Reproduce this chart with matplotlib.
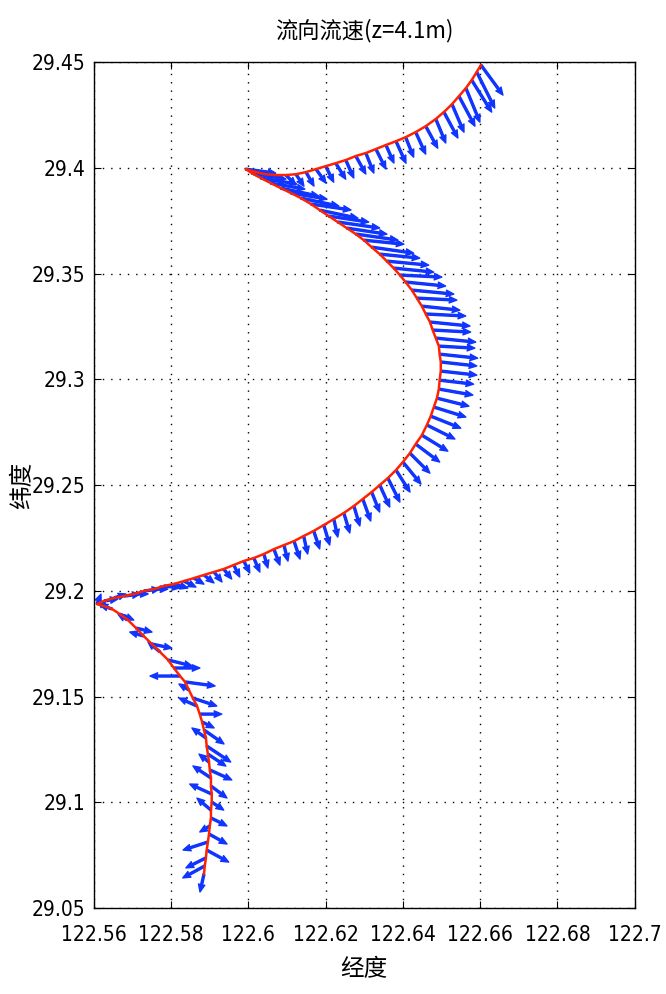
import matplotlib
matplotlib.use('Agg')
import matplotlib.pyplot as plt
import matplotlib.patheffects as pe
from matplotlib import font_manager

# ship track (lon, lat) and surface current at each fix (east, north, m/s)
track_lon = [
    122.5885, 122.5887, 122.5890, 122.5892, 122.5895, 122.5898, 122.5900, 122.5903,
    122.5903, 122.5905, 122.5905, 122.5903, 122.5903, 122.5900, 122.5898, 122.5895,
    122.5892, 122.5890, 122.5885, 122.5880, 122.5874, 122.5867, 122.5856, 122.5846,
    122.5836, 122.5823, 122.5807, 122.5792, 122.5771, 122.5750, 122.5729, 122.5709,
    122.5688, 122.5667, 122.5647, 122.5626, 122.5608,
    122.5626, 122.5652, 122.5678, 122.5704, 122.5729, 122.5755, 122.5781, 122.5807,
    122.5833, 122.5859, 122.5885, 122.5911, 122.5936, 122.5962, 122.5988, 122.6014,
    122.6040, 122.6066, 122.6092, 122.6118, 122.6143, 122.6169, 122.6195, 122.6221,
    122.6247, 122.6273, 122.6296, 122.6319, 122.6340, 122.6361, 122.6382, 122.6400,
    122.6418, 122.6433, 122.6449, 122.6462, 122.6472, 122.6480, 122.6488, 122.6493,
    122.6495, 122.6498,
    122.6498, 122.6495, 122.6493, 122.6485, 122.6477, 122.6470, 122.6459, 122.6449,
    122.6436, 122.6423, 122.6407, 122.6392, 122.6376, 122.6358, 122.6340, 122.6319,
    122.6299, 122.6278, 122.6255, 122.6231, 122.6208, 122.6185, 122.6162, 122.6136,
    122.6110, 122.6084, 122.6058, 122.6032, 122.6009, 122.5993,
    122.6019, 122.6045, 122.6071, 122.6097, 122.6123, 122.6149, 122.6175, 122.6200,
    122.6226, 122.6252, 122.6278, 122.6304, 122.6330, 122.6356, 122.6382, 122.6407,
    122.6433, 122.6459, 122.6485, 122.6506, 122.6527, 122.6545, 122.6563, 122.6578,
    122.6591, 122.6602,
]
track_lat = [
    29.0661, 29.0699, 29.0737, 29.0774, 29.0812, 29.0850, 29.0888, 29.0926,
    29.0963, 29.1001, 29.1039, 29.1077, 29.1115, 29.1153, 29.1190, 29.1228,
    29.1266, 29.1304, 29.1342, 29.1380, 29.1417, 29.1455, 29.1493, 29.1531,
    29.1569, 29.1597, 29.1635, 29.1673, 29.1711, 29.1748, 29.1786, 29.1824,
    29.1862, 29.1890, 29.1914, 29.1928, 29.1937,
    29.1952, 29.1966, 29.1975, 29.1985, 29.1999, 29.2008, 29.2023, 29.2032,
    29.2046, 29.2060, 29.2075, 29.2089, 29.2103, 29.2122, 29.2141, 29.2155,
    29.2174, 29.2197, 29.2216, 29.2235, 29.2259, 29.2283, 29.2311, 29.2339,
    29.2368, 29.2401, 29.2434, 29.2467, 29.2500, 29.2533, 29.2571, 29.2609,
    29.2651, 29.2694, 29.2736, 29.2784, 29.2826, 29.2869, 29.2911, 29.2954,
    29.2996, 29.3039,
    29.3082, 29.3119, 29.3157, 29.3195, 29.3233, 29.3271, 29.3309, 29.3346,
    29.3384, 29.3422, 29.3460, 29.3493, 29.3526, 29.3559, 29.3592, 29.3625,
    29.3658, 29.3687, 29.3715, 29.3744, 29.3772, 29.3800, 29.3829, 29.3857,
    29.3881, 29.3904, 29.3928, 29.3952, 29.3975, 29.3994,
    29.3980, 29.3970, 29.3966, 29.3966, 29.3970, 29.3980, 29.3994, 29.4008,
    29.4022, 29.4037, 29.4056, 29.4070, 29.4089, 29.4108, 29.4126, 29.4145,
    29.4169, 29.4197, 29.4231, 29.4264, 29.4301, 29.4339, 29.4377, 29.4415,
    29.4453, 29.4486,
]
cur_u = [
    -0.10, -0.55, -0.50, 0.55, -0.62, 0.45, -0.25, 0.40,
    -0.35, 0.30, -0.55, 0.40, -0.45, 0.55, -0.25, 0.45,
    0.60, -0.35, 0.50, 0.30, 0.55, -0.45, 0.60, -0.25,
    0.75, -0.75, 0.65, 0.60, -0.30, 0.50, -0.35, 0.40,
    -0.25, 0.35, -0.30, -0.15, 0.10,
    0.35, 0.30, 0.40, 0.35, 0.40, 0.35, 0.40, 0.35,
    0.30, 0.25, 0.25, 0.20, 0.20, 0.15, 0.15, 0.15,
    0.10, 0.15, 0.10, 0.15, 0.10, 0.15, 0.15, 0.10,
    0.15, 0.15, 0.20, 0.20, 0.25, 0.30, 0.35, 0.45,
    0.50, 0.60, 0.65, 0.70, 0.75, 0.80, 0.80, 0.85,
    0.85, 0.90,
    0.90, 0.95, 0.90, 1.00, 0.95, 1.00, 1.00, 0.95,
    1.00, 1.05, 1.00, 1.05, 1.00, 1.05, 1.00, 1.05,
    1.00, 1.05, 1.00, 1.05, 1.00, 0.95, 1.00, 0.95,
    0.90, 0.95, 0.85, 0.90, 0.85, 0.75,
    0.15, 0.20, 0.20, 0.25, 0.20, 0.20, 0.25, 0.20,
    0.25, 0.20, 0.25, 0.20, 0.25, 0.20, 0.25, 0.20,
    0.25, 0.30, 0.25, 0.35, 0.30, 0.40, 0.35, 0.50,
    0.45, 0.55,
]
cur_v = [
    -0.45, -0.30, -0.25, -0.30, -0.20, -0.25, -0.15, -0.20,
    0.30, -0.20, 0.25, -0.30, 0.30, -0.25, 0.20, -0.30,
    -0.40, 0.25, -0.35, -0.15, 0.00, 0.20, -0.20, 0.15,
    -0.10, 0.00, 0.00, -0.15, 0.25, -0.10, 0.10, -0.10,
    0.15, -0.15, 0.10, 0.15, 0.25,
    0.05, 0.10, 0.05, 0.00, 0.05, 0.00, -0.05, -0.10,
    -0.15, -0.15, -0.20, -0.25, -0.25, -0.30, -0.30, -0.35,
    -0.35, -0.40, -0.40, -0.45, -0.45, -0.45, -0.50, -0.45,
    -0.50, -0.50, -0.55, -0.50, -0.55, -0.60, -0.55, -0.55,
    -0.50, -0.45, -0.40, -0.35, -0.30, -0.25, -0.20, -0.15,
    -0.10, -0.10,
    -0.10, -0.10, -0.05, -0.10, -0.05, -0.10, -0.05, -0.10,
    -0.05, -0.10, -0.10, -0.05, -0.10, -0.10, -0.10, -0.15,
    -0.10, -0.15, -0.15, -0.15, -0.15, -0.20, -0.15, -0.20,
    -0.15, -0.20, -0.15, -0.15, -0.15, -0.10,
    -0.15, -0.20, -0.25, -0.25, -0.30, -0.35, -0.35, -0.40,
    -0.40, -0.45, -0.45, -0.50, -0.50, -0.45, -0.55, -0.50,
    -0.55, -0.55, -0.60, -0.65, -0.70, -0.75, -0.85, -0.80,
    -0.90, -0.75,
]

xticks = [122.56, 122.58, 122.6, 122.62, 122.64, 122.66, 122.68, 122.7]
xtick_labels = ['122.56', '122.58', '122.6', '122.62', '122.64', '122.66', '122.68', '122.7']
yticks = [29.05, 29.1, 29.15, 29.2, 29.25, 29.3, 29.35, 29.4, 29.45]
ytick_labels = ['29.05', '29.1', '29.15', '29.2', '29.25', '29.3', '29.35', '29.4', '29.45']

# narrow sans for the tick labels, like the squeezed matlab export
fonts = font_manager.fontManager.ttflist
tick_family = 'Liberation Sans'
tick_stretch = 'normal'
if any(f.name == 'Liberation Sans Narrow' for f in fonts):
    tick_family = 'Liberation Sans Narrow'
elif any(f.name == 'DejaVu Sans' and f.stretch == 'condensed' for f in fonts):
    tick_family = 'DejaVu Sans'
    tick_stretch = 'condensed'

plt.rcParams['font.family'] = [tick_family, 'Noto Sans CJK SC', 'DejaVu Sans']
plt.rcParams['font.stretch'] = tick_stretch
cjk = ['Noto Sans CJK SC', tick_family, 'DejaVu Sans']

fig = plt.figure(figsize=(6.66, 9.94), dpi=100)
ax = fig.add_axes([0.141, 0.0865, 0.812, 0.851])

blue = '#1035ff'
q = ax.quiver(track_lon, track_lat, cur_u, cur_v, angles='uv', scale_units='inches', scale=2.5,
              units='dots', width=2.0, headwidth=3.2, headlength=3.8, headaxislength=3.4,
              color=blue, zorder=2)
q.set_path_effects([pe.Stroke(linewidth=1.0, foreground=blue), pe.Normal()])
ax.plot(track_lon, track_lat, color='#ff2200', lw=1.8, zorder=3)

ax.set_xlim(122.56, 122.7)
ax.set_ylim(29.05, 29.45)
ax.set_xticks(xticks)
ax.set_xticklabels(xtick_labels)
ax.set_yticks(yticks)
ax.set_yticklabels(ytick_labels)
ax.grid(True, color='k', linestyle=(0, (1, 5)), linewidth=1.0)
ax.set_axisbelow(True)
ax.tick_params(direction='in', top=True, right=True, length=5, labelsize=15)
ax.tick_params(axis='x', pad=12)
ax.tick_params(axis='y', pad=6)
for s in ax.spines.values():
    s.set_linewidth(1.0)

ax.set_title('流向流速(z=4.1m)', family=cjk, fontsize=16, pad=18)
ax.set_xlabel('经度', family=cjk, fontsize=17, labelpad=10)
ax.set_ylabel('纬度', family=cjk, fontsize=17)
ax.yaxis.set_label_coords(-0.11, 0.5)

fig.savefig('out.png', dpi=100)
